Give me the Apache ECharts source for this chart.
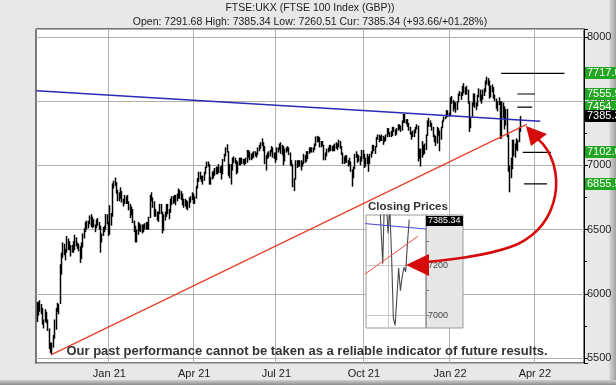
<!DOCTYPE html>
<html><head><meta charset="utf-8">
<script src="https://cdn.jsdelivr.net/npm/echarts@6/dist/echarts.min.js"></script>
<style>html,body{margin:0;padding:0;background:#e8e8e8}#c{width:616px;height:385px}</style>
</head><body><div id="c"></div>
<script>
// ---------- data ----------
const firstDay = '2020-10-15';
const axisDays = 407;
const ukHolidays = ['2020-12-25','2020-12-28','2021-01-01','2021-04-02','2021-04-05','2021-05-03','2021-05-31','2021-08-30','2021-12-27','2021-12-28','2022-01-03','2022-04-15','2022-04-18','2022-05-02','2022-06-02','2022-06-03'];
const monthNames = ['Jan','Feb','Mar','Apr','May','Jun','Jul','Aug','Sep','Oct','Nov','Dec'];

// daily [low, high]
const lowHigh2020Q4 = [
 [5780,5935],[5830,5940],[5860,5950],[5840,5920],[5760,5890],[5730,5800],[5780,5880],[5770,5860],[5710,5800],[5570,5730],[5540,5620],[5526,5620],
 [5580,5680],[5650,5800],[5720,5890],[5860,5930],[5840,5920],[5920,6230],[6150,6320],[6280,6400],[6300,6390],[6260,6350],[6320,6450],[6340,6430],[6340,6410],[6290,6380],[6320,6380],[6320,6410],[6340,6460],[6370,6440],[6350,6400],[6330,6390],[6240,6370],
 [6270,6400],[6360,6470],[6430,6510],[6480,6560],[6500,6570],[6510,6570],[6540,6610],[6520,6620],[6510,6600],[6520,6580],[6480,6540],[6510,6580],[6530,6590],[6500,6560],[6320,6530],[6400,6470],[6450,6520],[6480,6530],[6500,6620],[6540,6620],[6450,6560]
];
const lowHigh2021Q1 = [
 [6460,6690],[6530,6630],[6600,6860],[6820,6880],[6840,6905],[6780,6870],[6720,6810],[6720,6790],[6740,6830],[6710,6800],[6680,6740],[6700,6770],[6700,6760],[6700,6770],[6650,6720],[6590,6700],[6610,6680],[6550,6660],[6480,6570],[6400,6530],
 [6400,6500],[6460,6560],[6490,6550],[6480,6540],[6470,6540],[6480,6540],[6500,6550],[6500,6560],[6500,6560],[6500,6600],[6590,6770],[6720,6790],[6670,6750],[6600,6720],[6600,6660],[6570,6640],[6560,6640],[6620,6700],[6620,6700],[6470,6640],
 [6490,6620],[6570,6640],[6600,6700],[6620,6700],[6580,6660],[6630,6740],[6690,6760],[6700,6760],[6710,6770],[6690,6770],[6720,6780],[6740,6820],[6740,6810],[6730,6800],[6690,6780],[6670,6740],[6680,6740],[6660,6730],[6650,6720],[6670,6750],[6710,6760],[6730,6790],[6700,6780]
];
const lowHigh2021Q2 = [
 [6700,6760],[6740,6840],[6820,6900],[6870,6950],[6890,6950],[6870,6920],[6850,6920],[6880,6950],[6930,6990],[6980,7030],[6990,7030],[6850,7010],[6850,6910],[6890,6950],[6900,6960],[6920,6980],[6930,6990],[6930,6990],[6940,7010],[6940,6990],
 [6890,7000],[6930,7050],[7030,7090],[7070,7140],[7100,7164],[6920,7110],[6900,7010],[6850,7010],[6960,7060],[7020,7070],[7010,7060],[6930,7040],[6940,7030],[7000,7060],[7000,7060],[7010,7060],[7010,7050],[7000,7050],[7010,7060],
 [7020,7120],[7060,7120],[7040,7110],[7040,7090],[7050,7100],[7060,7110],[7070,7110],[7060,7100],[7080,7140],[7110,7160],[7130,7180],[7150,7210],[7110,7180],[7010,7150],[6960,7080],[7050,7100],[7060,7110],[7070,7120],[7100,7150],[7060,7140],[7050,7100],[7020,7100]
];
const lowHigh2021Q3 = [
 [7040,7140],[7100,7140],[7120,7170],[7090,7180],[7080,7160],[7000,7150],[7030,7130],[7100,7140],[7110,7150],[7080,7140],[7000,7100],[6990,7040],[6830,7010],[6800,6900],[6890,7040],[6980,7040],[6990,7040],[6990,7040],[6960,7040],[6990,7030],[7010,7090],[7020,7080],
 [7030,7110],[7050,7110],[7090,7140],[7100,7140],[7100,7140],[7100,7140],[7120,7170],[7150,7225],[7180,7230],[7180,7225],[7140,7220],[7140,7190],[7150,7190],[7040,7160],[7040,7100],[7070,7130],[7100,7140],[7110,7160],[7110,7160],[7110,7150],[7110,7160],
 [7110,7170],[7130,7180],[7120,7170],[7140,7200],[7130,7190],[7080,7150],[7010,7100],[7010,7070],[7020,7080],[7020,7080],[6990,7040],[7000,7060],[6950,7030],[6835,6970],[6900,6990],[6970,7090],[7060,7110],[7020,7090],[7030,7080],[7000,7070],[7030,7120],[7050,7120]
];
const lowHigh2021Q4 = [
 [6980,7090],[6990,7060],[7010,7090],[6950,7070],[7010,7090],[7060,7110],[7090,7160],[7110,7160],[7090,7150],[7140,7220],[7200,7240],[7180,7240],[7190,7230],[7190,7240],[7160,7230],[7180,7220],[7190,7240],[7220,7290],[7240,7290],[7220,7260],[7220,7270],
 [7230,7300],[7260,7300],[7230,7280],[7240,7290],[7270,7320],[7280,7320],[7260,7310],[7270,7350],[7330,7400],[7330,7400],[7320,7360],[7300,7360],[7270,7330],[7240,7300],[7200,7260],[7220,7270],[7220,7280],[7250,7300],[7280,7320],[7030,7310],[7050,7130],[6990,7130],
 [7060,7190],[7080,7160],[7090,7170],[7120,7240],[7230,7350],[7300,7370],[7300,7350],[7270,7330],[7220,7300],[7180,7240],[7150,7230],[7170,7300],[7230,7290],[7110,7270],[7200,7300],[7290,7350],[7340,7380],[7360,7380],[7370,7430],[7380,7430],[7380,7410]
];
const lowHigh2022Q1 = [
 [7385,7530],[7480,7540],[7420,7510],[7440,7500],[7410,7490],[7430,7500],[7490,7560],[7540,7580],[7510,7570],[7540,7620],[7560,7640],[7550,7610],[7550,7620],[7480,7590],[7260,7500],[7290,7380],[7380,7490],[7460,7560],[7450,7560],[7430,7490],
 [7460,7550],[7530,7600],[7500,7590],[7480,7550],[7510,7590],[7540,7600],[7570,7660],[7630,7690],[7620,7680],[7520,7660],[7530,7620],[7570,7630],[7520,7610],[7500,7550],[7440,7520],[7420,7500],[7470,7530],[7205,7500],[7210,7500],[7370,7490],
 [7280,7460],[7310,7440],[7220,7440],[6950,7240],[6790,7000],[6900,7060],[6970,7200],[7070,7200],[7060,7170],[7120,7210],[7110,7200],[7180,7300],[7260.51,7385.34]
];

// trend lines [date, value]
const blueTrend = [['2020-10-15', 7581], ['2022-04-07', 7344]];
const redTrend = [['2020-10-30', 5526], ['2022-03-24', 7319]];

// target levels and their segments
const targetLevels = [7717.0, 7555.9, 7454.1, 7102.0, 6855.5];
const targetStart = ['2022-02-25', '2022-03-15', '2022-03-15', '2022-03-21', '2022-03-22'];
const targetEnd = ['2022-05-06', '2022-04-01', '2022-03-30', '2022-04-21', '2022-04-14'];
const currentPrice = 7385.34;

// inset: closing prices
const recentStart = '2022-02-11';
const recentCloses = [7661.02, 7531.59, 7608.92, 7603.78, 7537.37, 7513.62, 7484.33, 7494.21, 7498.18, 7207.38, 7489.46, 7458.25, 7330.20, 7429.56, 7238.85, 6987.14, 6959.48, 6964.11, 7190.72, 7099.09, 7155.64, 7193.47, 7175.70, 7291.68, 7385.34];
const insetLabels = [7000, 7200];
const insetMonthLine = '2022-03-01';

const titleText = 'FTSE:UKX (FTSE 100 Index (GBP))';
const quoteText = 'Open: 7291.68 High: 7385.34 Low: 7260.51 Cur: 7385.34 (+93.66/+01.28%)';
const disclaimer = 'Our past performance cannot be taken as a reliable indicator of future results.';

// ---------- build ----------
function tradingDays(start, n, hol) {
  const out = []; const hs = new Set(hol);
  const d = new Date(start + 'T00:00:00Z');
  while (out.length < n) {
    const wd = d.getUTCDay(); const s = d.toISOString().slice(0, 10);
    if (wd !== 0 && wd !== 6 && !hs.has(s)) out.push(s);
    d.setUTCDate(d.getUTCDate() + 1);
  }
  return out;
}
const dates = tradingDays(firstDay, axisDays, ukHolidays);
const bars = [].concat(lowHigh2020Q4, lowHigh2021Q1, lowHigh2021Q2, lowHigh2021Q3, lowHigh2021Q4, lowHigh2022Q1);
const quarterStart = dates.map((d, i) => {
  if (i === 0) return false;
  const m = +d.slice(5, 7) - 1, pm = +dates[i - 1].slice(5, 7) - 1;
  return m !== pm && m % 3 === 0;
});
const qInt = (idx) => quarterStart[idx];
const fmtDate = (v) => monthNames[+v.slice(5, 7) - 1] + ' ' + v.slice(2, 4);
const idxOf = (d) => dates.indexOf(d);
const FONT = 'Liberation Sans, Arial, sans-serif';
const RED = '#d60a0a';

const chart = echarts.init(document.getElementById('c'), null, {renderer: 'canvas'});

const series = [];
// high/low bars
series.push({
  type: 'custom', xAxisIndex: 0, yAxisIndex: 0, z: 2, silent: true,
  data: bars.map((r, i) => [i, r[0], r[1]]),
  encode: {x: 0, y: [1, 2]},
  renderItem: (params, api) => {
    const lo = api.coord([api.value(0), api.value(1)]);
    const hi = api.coord([api.value(0), api.value(2)]);
    const x = Math.round(lo[0]) + 0.5;
    return {type: 'line', shape: {x1: x, y1: lo[1], x2: x, y2: hi[1]}, style: {stroke: '#000', lineWidth: 1.5}};
  }
});
series.push({type: 'line', xAxisIndex: 0, yAxisIndex: 0, z: 3, silent: true, symbol: 'none', data: blueTrend, lineStyle: {color: '#2a2ab4', width: 1.5}});
series.push({type: 'line', xAxisIndex: 0, yAxisIndex: 0, z: 3, silent: true, symbol: 'none', data: redTrend, lineStyle: {color: '#e8402a', width: 1.3}});
targetLevels.forEach((lv, k) => {
  series.push({type: 'line', xAxisIndex: 0, yAxisIndex: 0, z: 3, silent: true, symbol: 'none',
    data: [[targetStart[k], lv], [targetEnd[k], lv]], lineStyle: {color: '#000', width: 1.2}});
});
// price boxes on right axis
const boxItems = targetLevels.map(v => [0, v, 0]).concat([[0, currentPrice, 1]]);
series.push({
  type: 'custom', xAxisIndex: 0, yAxisIndex: 0, z: 8, silent: true, clip: false,
  data: boxItems, encode: {x: 0, y: 1},
  renderItem: (params, api) => {
    const cs = params.coordSys;
    const y = api.coord([0, api.value(1)])[1];
    const x = cs.x + cs.width + 1;
    const cur = api.value(2) === 1;
    return {type: 'group', children: [
      {type: 'rect', shape: {x: x, y: Math.round(y) - 6, width: 40, height: 12}, style: {fill: cur ? '#000' : '#21a621'}},
      {type: 'text', style: {text: api.value(1).toFixed(1), x: x + 2, y: Math.round(y), verticalAlign: 'middle', fill: '#fff', font: '11px ' + FONT}}
    ]};
  }
});
// inset
const rs = idxOf(recentStart);
series.push({
  type: 'line', xAxisIndex: 2, yAxisIndex: 1, z: 5, silent: true, symbol: 'none', clip: true,
  data: recentCloses.map((v, i) => [rs + i, v]),
  lineStyle: {color: '#4a4a4a', width: 1.1},
  markLine: {silent: true, symbol: 'none', label: {show: false}, lineStyle: {color: '#c8c8c8', width: 1, type: 'solid'},
    data: insetLabels.map(v => ({yAxis: v})).concat([{xAxis: idxOf(insetMonthLine)}])}
});
series.push({type: 'line', xAxisIndex: 2, yAxisIndex: 1, z: 5, silent: true, symbol: 'none', clip: true,
  data: blueTrend.map(p => [idxOf(p[0]), p[1]]), lineStyle: {color: '#4848d0', width: 1}});
series.push({type: 'line', xAxisIndex: 2, yAxisIndex: 1, z: 5, silent: true, symbol: 'none', clip: true,
  data: redTrend.map(p => [idxOf(p[0]), p[1]]), lineStyle: {color: '#f05040', width: 1}});
series.push({
  type: 'custom', xAxisIndex: 2, yAxisIndex: 1, z: 8, silent: true, clip: false,
  data: [[rs, currentPrice]], encode: {x: 0, y: 1},
  renderItem: (params, api) => {
    const cs = params.coordSys;
    const y = api.coord([api.value(0), api.value(1)])[1];
    const x = cs.x + cs.width;
    return {type: 'group', children: [
      {type: 'rect', shape: {x: x, y: Math.round(y) - 4, width: 37, height: 10}, style: {fill: '#000'}},
      {type: 'text', style: {text: api.value(1).toFixed(2), x: x + 2, y: Math.round(y) + 1, verticalAlign: 'middle', fill: '#fff', font: '9px ' + FONT}}
    ]};
  }
});

const option = {
  animation: false,
  backgroundColor: '#e8e8e8',
  grid: [
    {left: 36, top: 29, width: 548, height: 334, show: true, backgroundColor: '#fff', borderColor: '#000', borderWidth: 1},
    {left: 366, top: 215, width: 60, height: 113, show: false}
  ],
  xAxis: [
    {type: 'category', gridIndex: 0, data: dates, boundaryGap: true,
     axisLine: {lineStyle: {color: '#000'}},
     axisTick: {inside: true, length: 4, alignWithLabel: true, interval: qInt, lineStyle: {color: '#000'}},
     axisLabel: {interval: qInt, formatter: fmtDate, color: '#222', fontSize: 11, fontFamily: FONT, margin: 5},
     splitLine: {show: true, interval: qInt, lineStyle: {color: '#b0b0b0'}}},
    {type: 'category', gridIndex: 0, position: 'top', data: dates, boundaryGap: true,
     axisLine: {show: false},
     axisTick: {inside: true, length: 3, alignWithLabel: true, interval: qInt, lineStyle: {color: '#000'}},
     axisLabel: {show: false}, splitLine: {show: false}},
    {type: 'value', gridIndex: 1, min: idxOf(recentStart) - 0.5, max: idxOf(recentStart) + 33.5, show: false}
  ],
  yAxis: [
    {type: 'value', gridIndex: 0, position: 'right', min: 5461, max: 8062, splitNumber: 5, z: 2,
     axisLine: {show: true, lineStyle: {color: '#000'}},
     axisTick: {show: true, length: 4, lineStyle: {color: '#000'}},
     minorTick: {show: true, splitNumber: 2, length: 3, lineStyle: {color: '#000'}},
     axisLabel: {color: '#222', fontSize: 11, fontFamily: FONT, margin: 3, showMinLabel: false, showMaxLabel: false,
       formatter: (v) => String(v)},
     splitLine: {show: true, lineStyle: {color: '#b0b0b0'}}},
    {type: 'value', gridIndex: 1, position: 'right', min: 6949, max: 7404, z: 6,
     axisLine: {show: true, lineStyle: {color: '#999'}},
     axisTick: {show: true, length: 3, lineStyle: {color: '#777'}},
     axisLabel: {color: '#444', fontSize: 9, fontFamily: FONT, margin: 2, showMinLabel: false, showMaxLabel: false,
       formatter: (v) => insetLabels.includes(v) ? String(v) : ''},
     splitLine: {show: false}}
  ],
  graphic: [
    {type: 'rect', z: 1, shape: {x: 609, y: 0, width: 7, height: 385}, style: {fill: new echarts.graphic.LinearGradient(0, 0, 1, 0, [{offset: 0, color: '#dcdcdc'}, {offset: 1, color: '#a0a0a0'}])}},
    {type: 'rect', z: 1, shape: {x: 0, y: 380, width: 616, height: 5}, style: {fill: new echarts.graphic.LinearGradient(0, 0, 0, 1, [{offset: 0, color: '#d0d0d0'}, {offset: 1, color: '#8c8c8c'}])}},
    {type: 'rect', z: 4, shape: {x: 366, y: 215, width: 60, height: 113}, style: {fill: '#fff', stroke: '#9a9a9a', lineWidth: 1}},
    {type: 'rect', z: 4, shape: {x: 426, y: 215, width: 37, height: 113}, style: {fill: '#e6e6e6', stroke: '#9a9a9a', lineWidth: 1}},
    {type: 'text', z: 10, style: {text: titleText, x: 310, y: 8, align: 'center', verticalAlign: 'middle', fill: '#222', font: '10.5px ' + FONT}},
    {type: 'text', z: 10, style: {text: quoteText, x: 310, y: 22, align: 'center', verticalAlign: 'middle', fill: '#222', font: '10.5px ' + FONT}},
    {type: 'text', z: 10, style: {text: 'Closing Prices', x: 368, y: 207, verticalAlign: 'middle', fill: '#333', font: 'bold 11.5px ' + FONT}},
    {type: 'text', z: 10, style: {text: disclaimer, x: 307, y: 351, align: 'center', verticalAlign: 'middle', fill: '#333', font: 'bold 13px ' + FONT}},
    {type: 'bezierCurve', z: 10, shape: {x1: 538, y1: 139, cpx1: 553, cpy1: 152, cpx2: 559, cpy2: 175, x2: 555, y2: 196}, style: {fill: null, stroke: RED, lineWidth: 2.6}},
    {type: 'bezierCurve', z: 10, shape: {x1: 555, y1: 196, cpx1: 551, cpy1: 216, cpx2: 540, cpy2: 233, x2: 518, y2: 244}, style: {fill: null, stroke: RED, lineWidth: 2.6}},
    {type: 'bezierCurve', z: 10, shape: {x1: 518, y1: 244, cpx1: 495, cpy1: 254, cpx2: 460, cpy2: 259, x2: 426, y2: 262}, style: {fill: null, stroke: RED, lineWidth: 2.6}},
    {type: 'polygon', z: 10, shape: {points: [[526, 126], [531, 146], [547, 134]]}, style: {fill: RED}},
    {type: 'polygon', z: 10, shape: {points: [[406, 265], [429, 254], [429, 276]]}, style: {fill: RED}}
  ],
  series: series
};
chart.setOption(option);
</script>
</body></html>
